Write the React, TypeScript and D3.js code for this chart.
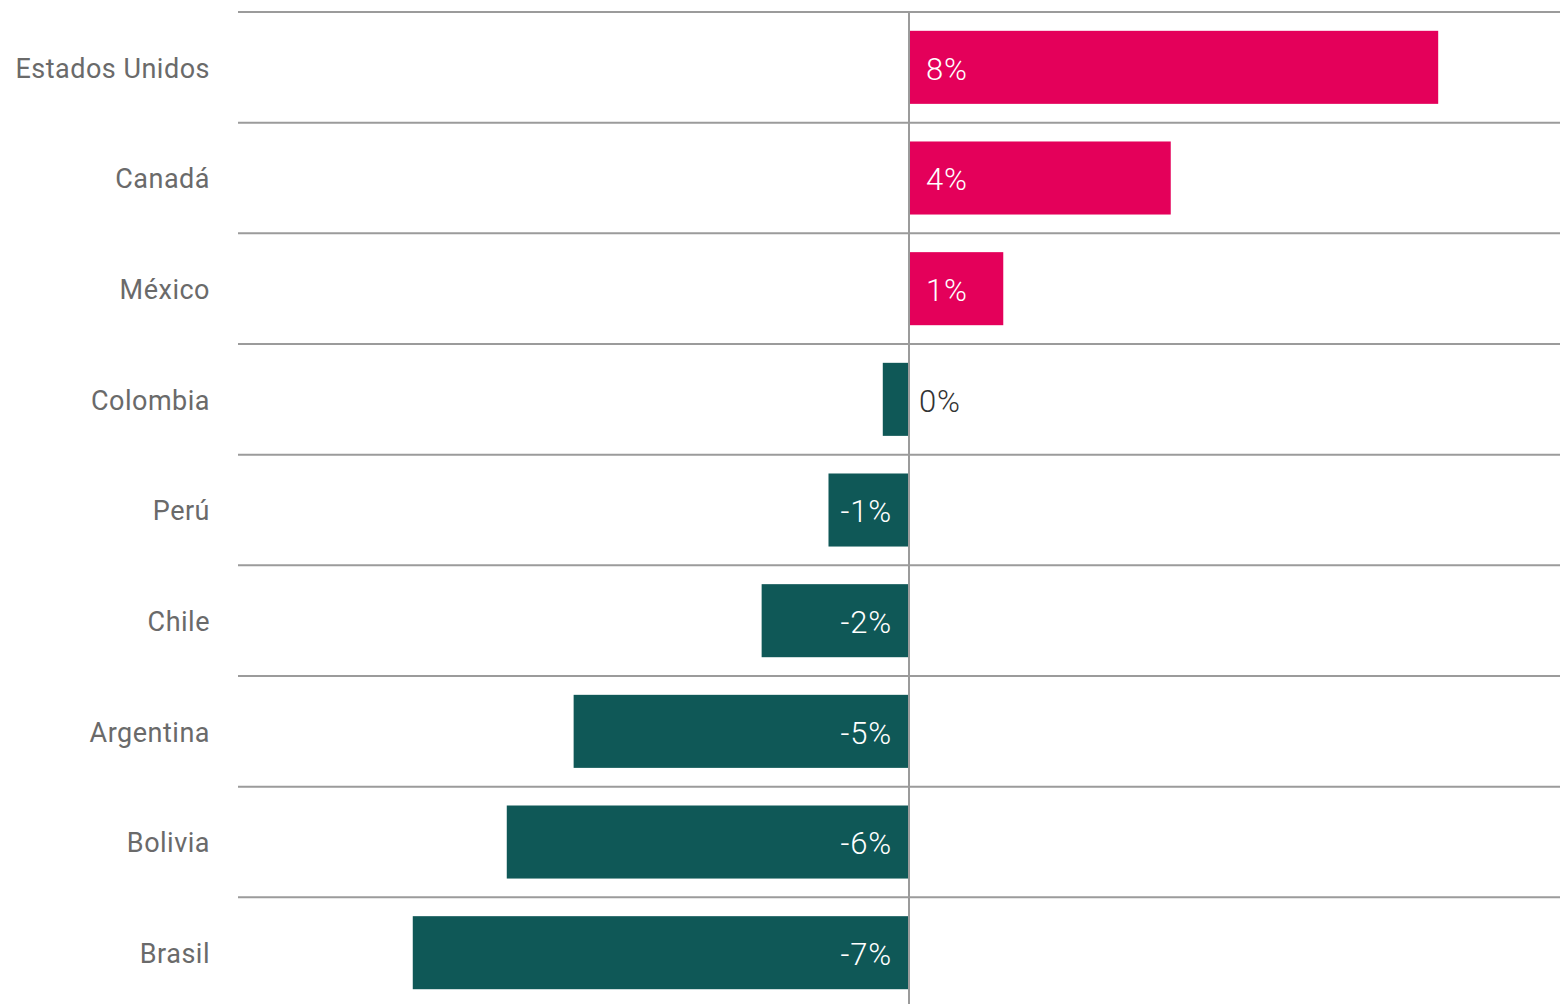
import * as d3 from "d3"

// Country order, top to bottom
const countries = [
  "Estados Unidos",
  "Canadá",
  "México",
  "Colombia",
  "Perú",
  "Chile",
  "Argentina",
  "Bolivia",
  "Brasil",
]

// Change, percent
const values = [8.0, 3.96, 1.43, -0.39, -1.21, -2.22, -5.06, -6.07, -7.49]

// Labels as printed on the chart
const valueLabels = ["8%", "4%", "1%", "0%", "-1%", "-2%", "-5%", "-6%", "-7%"]

const xDomain = [-10.13, 9.84]

export default function App() {
  const width = 1560
  const height = 1004
  const margin = { top: 12, left: 238, right: 0 }
  const font = "Roboto, 'Noto Sans', sans-serif"

  const x = d3
    .scaleLinear()
    .domain(xDomain)
    .range([margin.left, width - margin.right])

  const step = 110.67
  const y = d3
    .scaleBand<string>()
    .domain(countries)
    .range([margin.top, margin.top + step * countries.length])
    .paddingInner(0.34)
    .paddingOuter(0.17)

  const x0 = Math.round(x(0))

  return (
    <svg
      width={width}
      height={height}
      style={{ position: "absolute", left: 0, top: 0, background: "#fff" }}
    >
      {/* row separators */}
      {countries.map((c, i) => {
        const yy = margin.top + i * y.step()
        return (
          <line
            key={"g" + c}
            x1={margin.left}
            x2={width}
            y1={yy}
            y2={yy}
            stroke="#9b9b9b"
            strokeWidth={2}
          />
        )
      })}

      {/* bars */}
      {countries.map((c, i) => {
        const v = values[i]
        const x1 = v >= 0 ? x0 + 1 : x(v)
        const w = v >= 0 ? x(v) - x0 - 1 : x0 - x(v)
        return (
          <rect
            key={"b" + c}
            x={x1}
            y={y(c)}
            width={w}
            height={y.bandwidth()}
            fill={v >= 0 ? "#e4005a" : "#0f5857"}
          />
        )
      })}

      {/* category labels */}
      {countries.map((c) => (
        <text
          key={"c" + c}
          x={210}
          y={(y(c) as number) + y.bandwidth() / 2}
          dy="0.38em"
          textAnchor="end"
          fontFamily={font}
          fontSize={27}
          letterSpacing={0.5}
          fontWeight={400}
          fill="#6a6a6a"
        >
          {c}
        </text>
      ))}

      {/* value labels */}
      {countries.map((c, i) => {
        const v = values[i]
        const w = Math.abs(x(v) - x0)
        const cy = (y(c) as number) + y.bandwidth() / 2
        const outside = w < 50
        let tx = v >= 0 ? x0 + 17 : x0 - 17
        let anchor = v >= 0 ? "start" : "end"
        if (outside) {
          tx = x0 + 10
          anchor = "start"
        }
        return (
          <text
            key={"v" + c}
            x={tx}
            y={cy}
            dy="0.4em"
            textAnchor={anchor}
            fontFamily={font}
            fontSize={31}
            letterSpacing={0.8}
            fontWeight={300}
            fill={outside ? "#333" : "#fff"}
          >
            {valueLabels[i]}
          </text>
        )
      })}

      {/* zero line */}
      <line x1={x0} x2={x0} y1={margin.top} y2={height} stroke="#9b9b9b" strokeWidth={2} />
    </svg>
  )
}
